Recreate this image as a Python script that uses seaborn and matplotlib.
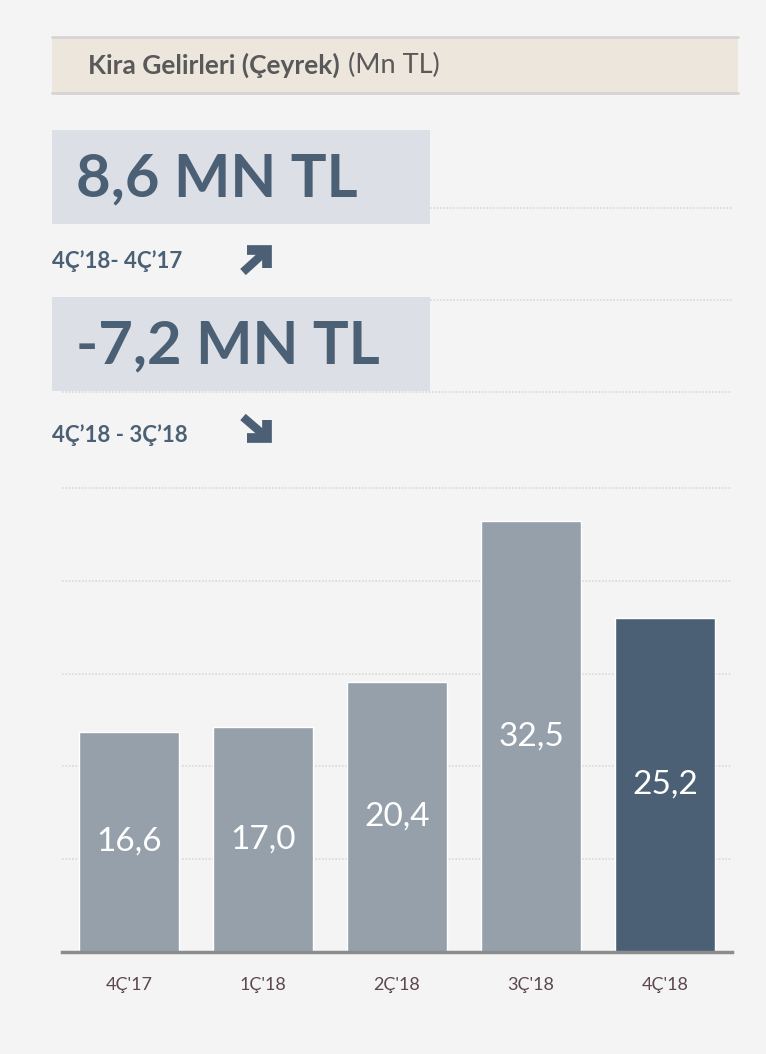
import matplotlib
matplotlib.use("Agg")
import matplotlib.pyplot as plt
from matplotlib.patches import Rectangle
from matplotlib.lines import Line2D
import seaborn as sns

# chart data
quarters = ["4Ç'17", "1Ç'18", "2Ç'18", "3Ç'18", "4Ç'18"]
values = [16.6, 17.0, 20.4, 32.5, 25.2]
value_labels = ["16,6", "17,0", "20,4", "32,5", "25,2"]

# headline figures
title_bold = "Kira Gelirleri (Çeyrek)"
title_unit = "(Mn TL)"
kpi_values = ["8,6 MN TL", "-7,2 MN TL"]
kpi_periods = ["4Ç’18- 4Ç’17", "4Ç’18 - 3Ç’18"]

W, H = 766, 1054
BG = "#f4f4f4"
DARK = "#4b6075"
LIGHT = "#95a0ab"
FONT = "Lato"

sns.set_theme(style="white")
plt.rcParams["font.family"] = [FONT, "DejaVu Sans"]

fig = plt.figure(figsize=(W / 100, H / 100), dpi=100, facecolor=BG)


def px(x, y):
    # pixel coords (top-left origin) -> figure fraction
    return x / W, 1 - y / H


def fig_rect(x0, y0, x1, y1, **kw):
    fx, fy = px(x0, y1)
    fig.patches.append(Rectangle((fx, fy), (x1 - x0) / W, (y1 - y0) / H,
                                 transform=fig.transFigure, **kw))


def fig_poly(xs, ys, **kw):
    fx = [x / W for x in xs]
    fy = [1 - y / H for y in ys]
    fig.lines.append(Line2D(fx, fy, transform=fig.transFigure, **kw))


def fig_line(x0, x1, y, **kw):
    fig_poly([x0, x1], [y, y], **kw)


# header band
fig_rect(52, 37, 738, 93, facecolor="#ece6dc", edgecolor="none")
fig_line(52, 738, 37, color="#d8d4d4", lw=2)
fig_line(52, 738, 93, color="#d8d4d4", lw=2)
t1 = fig.text(*px(88, 65), title_bold, fontsize=19, fontweight="bold",
              color="#595959", va="center", ha="left")
renderer = fig.canvas.get_renderer()
bb = t1.get_window_extent(renderer=renderer)
fig.text(bb.x1 / W + 8 / W, px(0, 65)[1], title_unit, fontsize=19.5,
         color="#595959", va="center", ha="left")

# KPI boxes
box_tops = [130, 297]
period_y = [261, 435]
for i in range(2):
    top = box_tops[i]
    fig_rect(52, top, 430, top + 94, facecolor="#dcdfe6", edgecolor="none")
    fig.text(*px(76, top + 66), kpi_values[i], fontsize=43, fontweight="bold",
             color=DARK, va="baseline", ha="left")
    fig.text(*px(52, period_y[i]), kpi_periods[i], fontsize=16,
             fontweight="bold", color=DARK, va="center", ha="left")

shaft = dict(color=DARK, lw=6, solid_capstyle="butt")
head = dict(color=DARK, lw=7, solid_capstyle="butt", solid_joinstyle="miter")
# up-right arrow
fig_poly([243, 265], [272, 252], **shaft)
fig_poly([247, 267, 267], [250, 250, 268], **head)
# down-right arrow
fig_poly([243, 265], [417, 436], **shaft)
fig_poly([247, 267, 267], [438, 438, 420], **head)

dot = dict(color="#d9d9d9", lw=1.2, linestyle=(0, (1, 1)))
fig_line(430, 732, 208, **dot)
fig_line(430, 732, 300, **dot)
fig_line(62, 732, 392, **dot)

# bar chart
ax_left, ax_right, ax_top, ax_bot = 62, 732, 488, 952
ax = fig.add_axes([ax_left / W, 1 - ax_bot / H, (ax_right - ax_left) / W,
                   (ax_bot - ax_top) / H])
ax.set_facecolor(BG)
palette = {q: LIGHT for q in quarters}
palette[quarters[-1]] = DARK
sns.barplot(x=quarters, y=values, hue=quarters, palette=palette, legend=False,
            width=0.75, saturation=1, ax=ax, zorder=3)
ax.set_ylim(0, 35)
ax.set_xlim(-0.5, len(quarters) - 0.5)
ax.set_yticks([7, 14, 21, 28, 35])
ax.yaxis.grid(True, color="#d9d9d9", lw=1.2, linestyle=(0, (1, 1)), zorder=0)
ax.set_axisbelow(True)
for gl in ax.get_ygridlines():
    gl.set_clip_on(False)
ax.tick_params(axis="y", left=False, labelleft=False)
ax.tick_params(axis="x", bottom=False, pad=12, labelsize=13,
               labelcolor="#5b474d")
for s in ["top", "left", "right"]:
    ax.spines[s].set_visible(False)
ax.spines["bottom"].set_color("#8c8c8c")
ax.spines["bottom"].set_linewidth(2.5)
ax.spines["bottom"].set_zorder(5)
ax.set_xlabel("")
ax.set_ylabel("")

for i, (v, lab) in enumerate(zip(values, value_labels)):
    ax.text(i, v * 0.5, lab, ha="center", va="center", color="white",
            fontsize=24, zorder=6)

fig.savefig("out.png", dpi=100, facecolor=BG)
